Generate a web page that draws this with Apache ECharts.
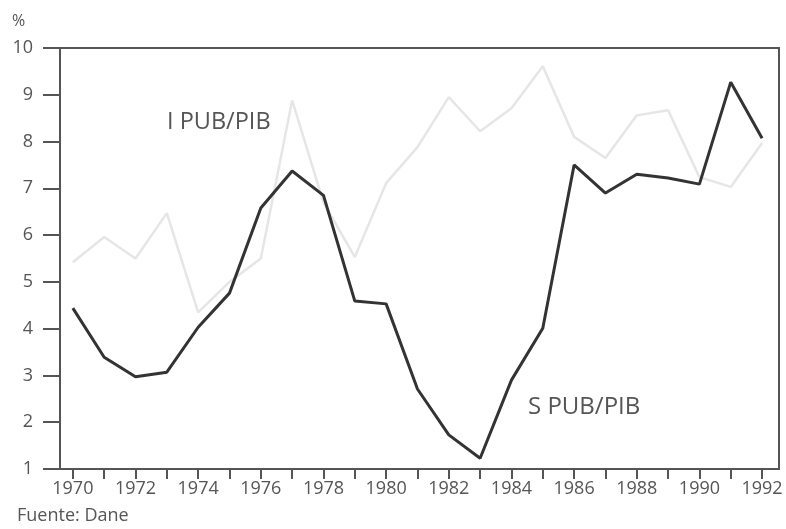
<!DOCTYPE html>
<html>
<head>
<meta charset="utf-8">
<script src="https://cdn.jsdelivr.net/npm/echarts@6/dist/echarts.min.js"></script>
<style>
  html, body { margin: 0; padding: 0; background: #fff; }
  #chart { width: 786px; height: 529px; }
</style>
</head>
<body>
<div id="chart"></div>
<script>
// años
var years = [1970, 1971, 1972, 1973, 1974, 1975, 1976, 1977, 1978, 1979, 1980, 1981,
  1982, 1983, 1984, 1985, 1986, 1987, 1988, 1989, 1990, 1991, 1992];
var yearLabels = [1970, 1972, 1974, 1976, 1978, 1980, 1982, 1984, 1986, 1988, 1990, 1992];
// S PUB/PIB (línea oscura)
var sPub = [4.44, 3.39, 2.97, 3.07, 4.03, 4.76, 6.58, 7.37, 6.85, 4.59, 4.53, 2.71,
  1.73, 1.23, 2.9, 4.01, 7.5, 6.9, 7.3, 7.22, 7.09, 9.27, 8.07];
// I PUB/PIB (línea clara)
var iPub = [5.42, 5.96, 5.5, 6.47, 4.35, 5.0, 5.5, 8.88, 6.7, 5.53, 7.11, 7.88,
  8.95, 8.22, 8.71, 9.61, 8.1, 7.65, 8.56, 8.67, 7.24, 7.03, 7.97];
var yTicks = [1, 10, 1];

function pairs(vals) {
  return years.map(function (y, i) { return [y, vals[i]]; });
}

var font = '"Open Sans", sans-serif';
var axisColor = '#555';
var textColor = '#555';

var myChart = echarts.init(document.getElementById('chart'));
var option = {
  animation: false,
  backgroundColor: '#fff',
  grid: {
    left: 60, right: 7, top: 48, bottom: 60,
    show: true,
    borderColor: axisColor,
    borderWidth: 2
  },
  xAxis: {
    type: 'value',
    min: 1969.59,
    max: 1992.54,
    axisLine: { lineStyle: { color: axisColor, width: 2 } },
    axisTick: {
      show: true,
      length: 10,
      customValues: years,
      lineStyle: { color: axisColor, width: 2 }
    },
    axisLabel: {
      customValues: yearLabels,
      formatter: function (v) { return String(v); },
      color: textColor,
      fontFamily: font,
      fontSize: 18,
      margin: 11
    },
    splitLine: { show: false }
  },
  yAxis: {
    type: 'value',
    min: yTicks[0],
    max: yTicks[1],
    interval: yTicks[2],
    axisLine: { show: true, onZero: false, lineStyle: { color: axisColor, width: 2 } },
    axisTick: { show: true, inside: false, length: 17, lineStyle: { color: axisColor, width: 2 } },
    axisLabel: {
      color: textColor,
      fontFamily: font,
      fontSize: 18,
      margin: 27
    },
    splitLine: { show: false }
  },
  graphic: [
    { type: 'text', left: 12, top: 13, style: { text: '%', fill: textColor, font: '16px ' + font } },
    { type: 'text', left: 17, top: 507, style: { text: 'Fuente: Dane', fill: textColor, font: '18px ' + font } },
    { type: 'text', left: 167, top: 110, style: { text: 'I PUB/PIB', fill: '#555', font: '23.5px ' + font } },
    { type: 'text', left: 528, top: 395, style: { text: 'S PUB/PIB', fill: '#555', font: '24px ' + font } }
  ],
  series: [
    {
      name: 'I PUB/PIB',
      type: 'line',
      data: pairs(iPub),
      symbol: 'none',
      lineStyle: { color: '#e6e6e6', width: 2.5 },
      z: 2
    },
    {
      name: 'S PUB/PIB',
      type: 'line',
      data: pairs(sPub),
      symbol: 'none',
      lineStyle: { color: '#333', width: 3 },
      z: 3
    }
  ]
};
myChart.setOption(option);
</script>
</body>
</html>
